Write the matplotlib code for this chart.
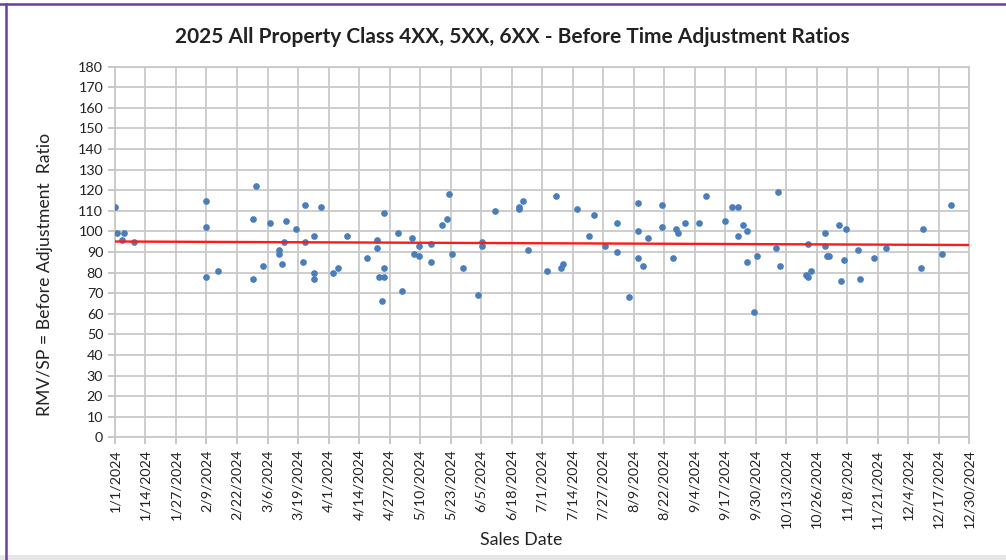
import datetime as dt
import matplotlib
matplotlib.use("Agg")
import matplotlib.pyplot as plt
from matplotlib.lines import Line2D
from matplotlib.patches import Rectangle

# sale day (days after 1/1/2024) and before-adjustment ratio
sale_days = [0, 1, 4, 3, 8, 39, 39, 39, 44, 60, 59, 59, 63, 66, 70, 70, 71, 72, 73,
             77, 80, 81, 81, 85, 85, 85, 88, 93, 95, 99, 107.5, 111.5, 111.5, 114.5, 112.5,
             114.5, 114.5, 114, 120.5,
             122.5, 126.5, 129.5, 127.5, 129.5, 134.5, 134.5, 139.5, 141.5, 142.5, 143.5,
             148.5, 154.5, 156.5, 156.5, 162, 172, 172, 174, 176, 184, 188, 190, 191,
             197, 204, 202, 209, 214, 214, 219, 223, 223, 223, 225, 227, 233, 233, 238,
             239, 240,
             243, 249, 252, 260, 263, 265.5, 265.5, 267.5, 269.5, 269.5, 273.5, 272.5,
             281.5, 282.5, 283.5, 295.5, 294.5, 295.5, 296.5, 302.5, 302.5, 303.5, 304.5,
             308.5, 311.5, 310.5, 309.5, 316.5, 317.5, 323.5, 328.5, 343.5, 344.5, 352.5,
             356.5]
ratios = [112, 99, 99, 96, 95, 115, 102, 78, 81, 122, 106, 77, 83, 104, 91, 89, 84, 95, 105,
          101, 85, 113, 95, 98, 80, 77, 112, 80, 82, 98, 87, 96, 92, 109, 78,
          78, 82, 66, 99,
          71, 97, 93, 89, 88, 94, 85, 103, 106, 118, 89,
          82, 69, 95, 93, 110, 111, 112, 115, 91, 81, 117, 82, 84,
          111, 108, 98, 93, 104, 90, 68, 114, 100, 87, 83, 97, 113, 102, 87,
          101, 99,
          104, 104, 117, 105, 112, 112, 98, 103, 100, 85, 88, 61,
          92, 119, 83, 94, 79, 78, 81, 99, 93, 88, 88,
          103, 101, 86, 76, 91, 77, 87, 92, 82, 101, 89,
          113]

trend_days = [0, 364]
trend_vals = [95.1, 93.4]

start = dt.datetime(2024, 1, 1)
dates = [start + dt.timedelta(days=d) for d in sale_days]
trend_dates = [start + dt.timedelta(days=d) for d in trend_days]
tick_dates = [start + dt.timedelta(days=13 * i) for i in range(29)]
tick_labels = [f"{d.month}/{d.day}/{d.year}" for d in tick_dates]

plt.rcParams['font.family'] = ['Lato', 'DejaVu Sans']

fig = plt.figure(figsize=(10.06, 5.6), dpi=100)
ax = fig.add_axes([0.1143, 0.219, 0.849, 0.662])

ax.plot(dates, ratios, 'o', color='#4a7ebb', markersize=3.8, zorder=3)
ax.plot(trend_dates, trend_vals, color='#ff1a1a', linewidth=1.7, zorder=4)

ax.set_xlim(tick_dates[0], tick_dates[-1])
ax.set_ylim(0, 180)
ax.set_yticks(range(0, 181, 10))
ax.set_xticks(tick_dates)
ax.set_xticklabels(tick_labels, rotation=90)
ax.tick_params(axis='both', colors='#bdbdbd', labelcolor='#222222', labelsize=10.3,
               length=5, width=1.2, direction='out')
ax.grid(True, color='#c9c9c9', linewidth=1.3)
ax.set_axisbelow(True)
for s in ax.spines.values():
    s.set_color('#c9c9c9')
    s.set_linewidth(1.3)

fig.text(512 / 1006, 1 - 37 / 560, "2025 All Property Class 4XX, 5XX, 6XX - Before Time Adjustment Ratios",
         ha='center', va='center', fontsize=15, fontweight='bold', color='#222222')
fig.text(45 / 1006, 1 - 274 / 560, "RMV/SP = Before Adjustment  Ratio", rotation=90,
         ha='center', va='center', fontsize=12.7, color='#222222')
fig.text(521 / 1006, 1 - 540 / 560, "Sales Date", ha='center', va='center',
         fontsize=12.8, color='#222222')

# outer frame: purple top/left edge, grey strip at bottom
fig.add_artist(Line2D([0, 1], [1 - 4 / 560] * 2, transform=fig.transFigure,
                      color='#6b3fa0', linewidth=1.8))
fig.add_artist(Line2D([6 / 1006] * 2, [0, 1 - 4 / 560], transform=fig.transFigure,
                      color='#6b3fa0', linewidth=1.8))
fig.add_artist(Rectangle((0, 0), 1, 5 / 560, transform=fig.transFigure,
                         color='#e6e6e6', linewidth=0))

fig.savefig("out.png", dpi=100)
